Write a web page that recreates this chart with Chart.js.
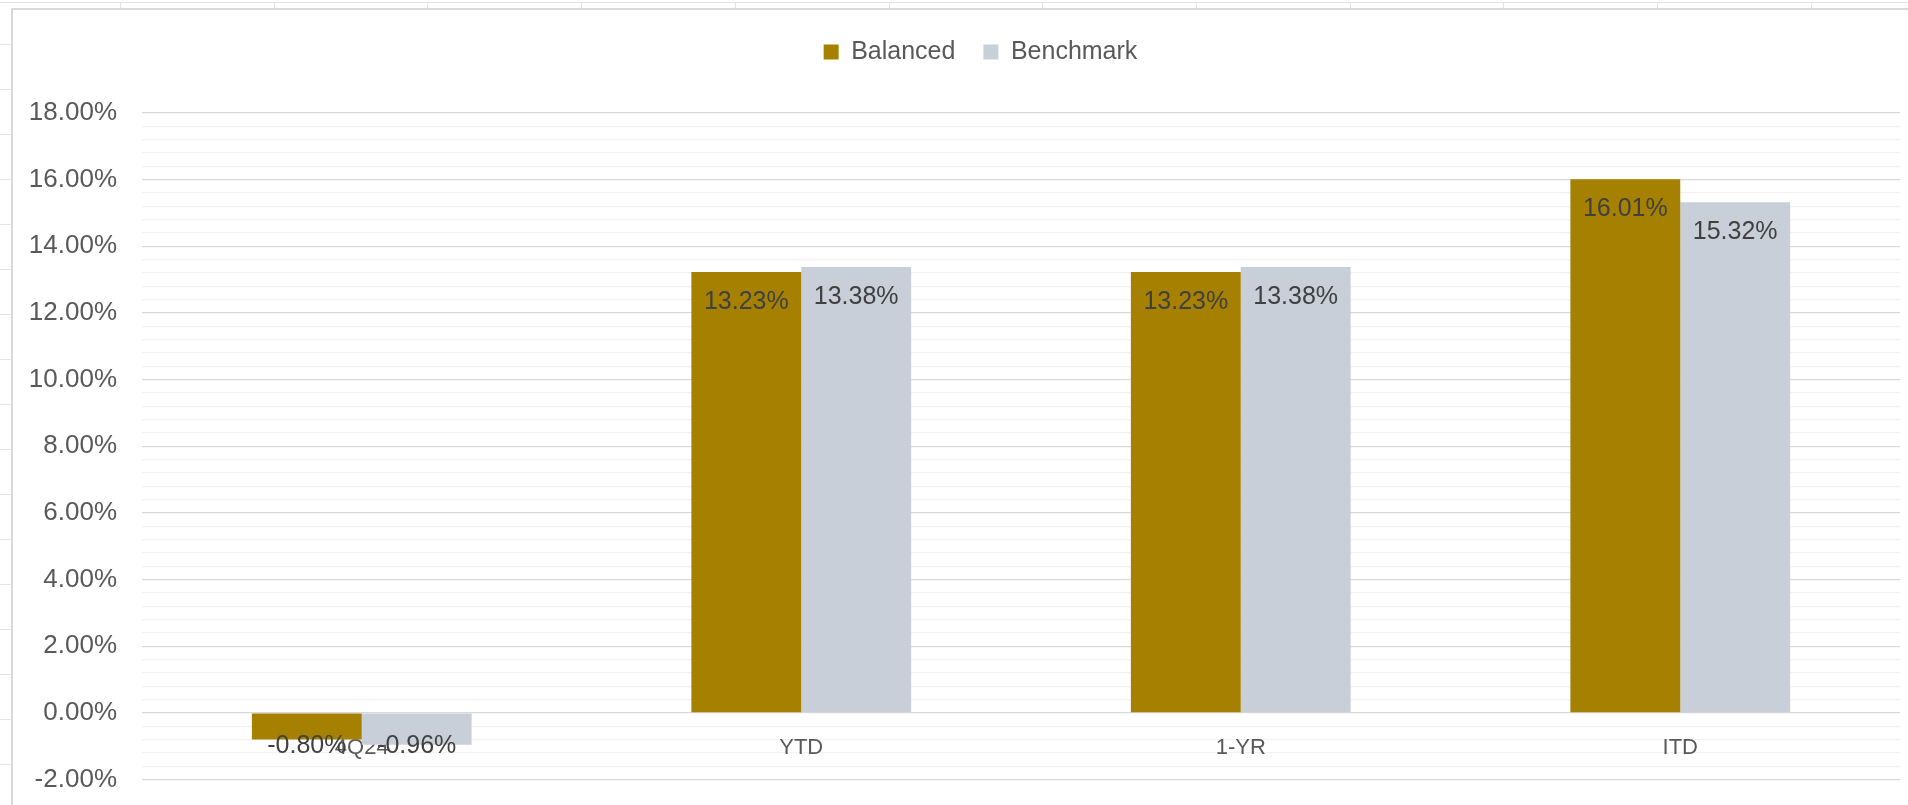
<!DOCTYPE html>
<html>
<head>
<meta charset="utf-8">
<title>Balanced vs Benchmark</title>
<script src="https://cdn.jsdelivr.net/npm/chart.js@4.4.1/dist/chart.umd.min.js"></script>
<style>
  body { margin: 0; background: #fff; overflow: hidden; }
  /* spreadsheet cells peeking out around the chart */
  #cellsTop {
    position: absolute; left: 0; top: 2px; width: 100%; height: 9px;
    border-top: 1px solid #e3e3e3;
    background: repeating-linear-gradient(to right, transparent 0 120px, #e3e3e3 120px 121px, transparent 121px 153.7px);
  }
  #cellsLeft {
    position: absolute; left: 0; top: 0; width: 11px; height: 100%;
    background: repeating-linear-gradient(to bottom, transparent 0 44px, #e3e3e3 44px 45px, transparent 45px 44.2px);
  }
  #frame {
    position: absolute; left: 11px; top: 8px; width: 1897px; height: 797px;
    box-sizing: border-box; background: #fff;
    border-left: 2px solid #d9d9d9; border-top: 2px solid #d9d9d9;
  }
  #wrap { position: relative; width: 100%; height: 100%; }
</style>
</head>
<body>
<div id="cellsTop"></div>
<div id="cellsLeft"></div>
<div id="frame"><div id="wrap"><canvas id="chart"></canvas></div></div>

<script>
const categories = ["4Q24", "YTD", "1-YR", "ITD"];
const balanced = [-0.80, 13.23, 13.23, 16.01];
const benchmark = [-0.96, 13.38, 13.38, 15.32];

const yMin = -2;
const yMax = 18;
const majorStep = 2;
const minorStep = 0.4;

const FONT = "'Liberation Sans', Arial, sans-serif";

const isMajor = (v) => Math.abs(v / majorStep - Math.round(v / majorStep)) < 1e-6;
const pct = (v) => v.toFixed(2) + "%";

// values written on the bars, like Excel's data labels
const barLabels = {
  id: "barLabels",
  afterDatasetsDraw(chart) {
    const ctx = chart.ctx;
    ctx.save();
    ctx.font = "25px " + FONT;
    ctx.fillStyle = "#404040";
    ctx.textAlign = "center";
    ctx.textBaseline = "middle";
    chart.data.datasets.forEach((ds, i) => {
      chart.getDatasetMeta(i).data.forEach((bar, j) => {
        const v = ds.data[j];
        const y = v >= 0 ? bar.y + 30 : bar.base + 33;
        ctx.fillText(pct(v), bar.x, y);
      });
    });
    ctx.restore();
  }
};

// Excel centres the legend on the whole chart object (wider than the window)
// and keeps it near the top, so nudge the legend box after layout
const legendPlace = {
  id: "legendPlace",
  afterLayout(chart) {
    const lg = chart.legend;
    if (!lg) return;
    const lab = chart.options.plugins.legend.labels;
    const itemH = Math.max(lab.font.size, lab.boxHeight);
    const dy = 42 - (lg.top + lab.padding + itemH / 2);
    const dx = 24;
    lg.top += dy; lg.bottom += dy;
    lg.left += dx; lg.right += dx;
  }
};

const ctx = document.getElementById("chart").getContext("2d");

new Chart(ctx, {
  type: "bar",
  data: {
    labels: categories,
    datasets: [
      {
        label: "Balanced",
        data: balanced,
        backgroundColor: "#a68000",
        borderWidth: 0,
        categoryPercentage: 0.5,
        barPercentage: 1.0,
      },
      {
        label: "Benchmark",
        data: benchmark,
        backgroundColor: "#c8cfd9",
        borderWidth: 0,
        categoryPercentage: 0.5,
        barPercentage: 1.0,
      },
    ],
  },
  options: {
    responsive: true,
    maintainAspectRatio: false,
    animation: false,
    layout: {
      padding: { top: 10, left: 0, right: 8, bottom: 0 },
    },
    plugins: {
      legend: {
        position: "top",
        labels: {
          boxWidth: 15,
          boxHeight: 15,
          padding: 28,
          color: "#595959",
          font: { family: FONT, size: 25 },
        },
      },
      tooltip: {
        callbacks: {
          label: (c) => c.dataset.label + ": " + pct(c.parsed.y),
        },
      },
    },
    scales: {
      x: {
        position: { y: 0 }, // labels sit under the zero line
        grid: { display: false, drawTicks: false },
        border: { display: false },
        ticks: {
          padding: 22,
          color: "#595959",
          font: { family: FONT, size: 22 },
        },
        afterFit: (scale) => {
          scale.paddingTop = 0;
          scale.paddingBottom = 0;
        },
      },
      y: {
        min: yMin,
        max: yMax,
        border: { display: false },
        grid: {
          drawTicks: false,
          lineWidth: 1.3,
          color: (c) => (isMajor(c.tick.value) ? "#d9d9d9" : "#f2f2f2"),
        },
        ticks: {
          stepSize: minorStep,
          autoSkip: false,
          padding: 25,
          color: "#595959",
          font: { family: FONT, size: 26 },
          callback: (v) => (isMajor(v) ? pct(v) : ""),
        },
        afterFit: (scale) => {
          scale.width = 129;
          scale.paddingTop = 103;
          scale.paddingBottom = 25.5;
        },
      },
    },
  },
  plugins: [barLabels, legendPlace],
});
</script>
</body>
</html>
